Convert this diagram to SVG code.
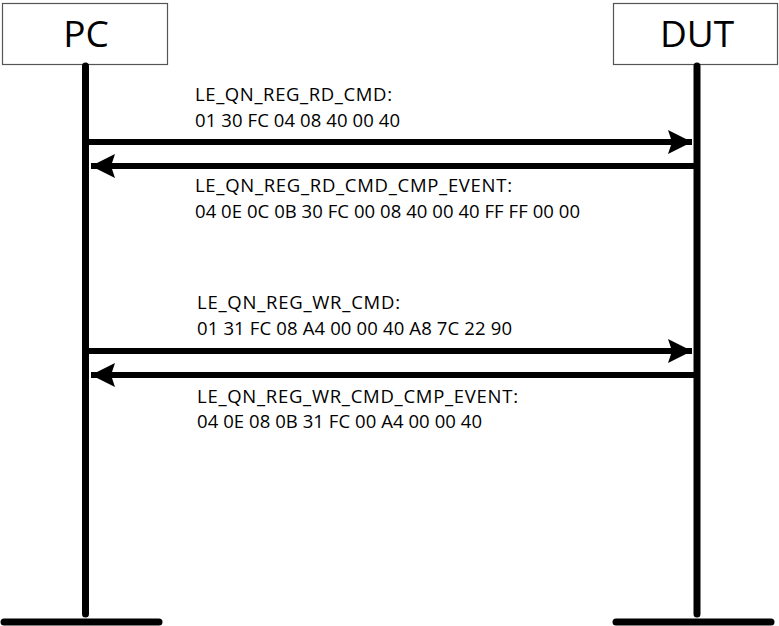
<svg xmlns="http://www.w3.org/2000/svg" width="779" height="626" viewBox="0 0 779 626">
<style>
.box{fill:#fff;stroke:#555;stroke-width:1.2}
.title{font-family:"Open Sans","Liberation Sans",sans-serif;font-size:37px;fill:#000;text-anchor:middle}
.lbl{font-family:"Open Sans","Liberation Sans",sans-serif;font-size:18.5px;fill:#000}
.life{stroke:#000;stroke-width:7;stroke-linecap:round;fill:none}
.msg{stroke:#000;stroke-width:6;fill:none}
</style>
<defs>
<marker id="ah" viewBox="0 0 24 24" refX="24" refY="12" markerWidth="24" markerHeight="24" markerUnits="userSpaceOnUse" orient="auto">
<path d="M0,0 L24,12 L0,24 L4,12 Z" fill="#000"/>
</marker>
</defs>
<g id="pc">
<rect class="box" x="2.5" y="3.5" width="165" height="61"/>
<text class="title" x="86" y="47">PC</text>
<line class="life" x1="85.5" y1="66" x2="85.5" y2="614"/>
<line class="life" x1="4" y1="622" x2="159" y2="622"/>
</g>
<g id="dut">
<rect class="box" x="613.5" y="3.5" width="164" height="61"/>
<text class="title" x="697" y="47">DUT</text>
<line class="life" x1="697" y1="66" x2="697" y2="614"/>
<line class="life" x1="616" y1="622" x2="771" y2="622"/>
</g>
<g id="connectors">
<line class="msg" x1="89" y1="142" x2="692" y2="142" marker-end="url(#ah)"/>
<line class="msg" x1="694" y1="166" x2="91" y2="166" marker-end="url(#ah)"/>
<line class="msg" x1="89" y1="351" x2="692" y2="351" marker-end="url(#ah)"/>
<line class="msg" x1="694" y1="375" x2="91" y2="375" marker-end="url(#ah)"/>
</g>
<g id="labels">
<text class="lbl" x="195" y="101" textLength="197">LE_QN_REG_RD_CMD:</text>
<text class="lbl" x="195" y="127" textLength="205">01 30 FC 04 08 40 00 40</text>
<text class="lbl" x="195" y="192" textLength="317">LE_QN_REG_RD_CMD_CMP_EVENT:</text>
<text class="lbl" x="195" y="218" textLength="385">04 0E 0C 0B 30 FC 00 08 40 00 40 FF FF 00 00</text>
<text class="lbl" x="197" y="309" textLength="203">LE_QN_REG_WR_CMD:</text>
<text class="lbl" x="197" y="335" textLength="315">01 31 FC 08 A4 00 00 40 A8 7C 22 90</text>
<text class="lbl" x="197" y="403" textLength="321">LE_QN_REG_WR_CMD_CMP_EVENT:</text>
<text class="lbl" x="197" y="428" textLength="285">04 0E 08 0B 31 FC 00 A4 00 00 40</text>
</g>
</svg>
